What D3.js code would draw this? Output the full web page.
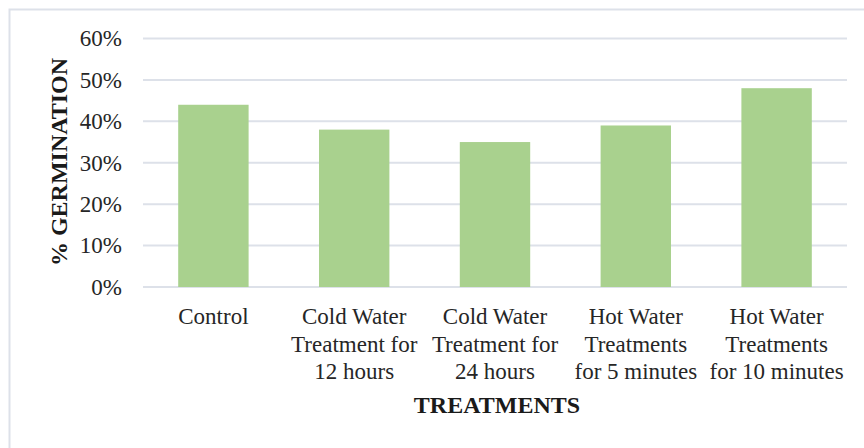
<!DOCTYPE html>
<html>
<head>
<meta charset="utf-8">
<script src="https://cdn.jsdelivr.net/npm/d3@7"></script>
<style>
  body { margin: 0; background: #fff; }
  svg { display: block; font-family: "Liberation Serif", "Times New Roman", serif; }
</style>
</head>
<body>
<svg></svg>
<script>
const categories = [
    ["Control"],
    ["Cold Water", "Treatment for", "12 hours"],
    ["Cold Water", "Treatment for", "24 hours"],
    ["Hot Water", "Treatments", "for 5 minutes"],
    ["Hot Water", "Treatments", "for 10 minutes"]
];
const germination = [0.44, 0.38, 0.35, 0.39, 0.48];
const yTicks = [0, 0.1, 0.2, 0.3, 0.4, 0.5, 0.6];

const W = 864, H = 448;
const margin = {top: 38.5, right: 17, bottom: 161, left: 143};
const width = W - margin.left - margin.right,
      height = H - margin.top - margin.bottom;

const svg = d3.select("svg")
    .attr("width", W)
    .attr("height", H);

// chart area frame (only top/left visible in the picture)
svg.append("rect")
    .attr("x", 9.5)
    .attr("y", 9.5)
    .attr("width", 900)
    .attr("height", 500)
    .attr("fill", "none")
    .attr("stroke", "#dde1e9")
    .attr("stroke-width", 2);

const g = svg.append("g")
    .attr("transform", `translate(${margin.left},${margin.top})`);

const x = d3.scaleBand()
    .domain(d3.range(categories.length))
    .range([0, width])
    .paddingInner(0.5)
    .paddingOuter(0.25);

const y = d3.scaleLinear()
    .domain([0, 0.6])
    .range([height, 0]);

// gridlines
g.append("g")
    .selectAll("line")
    .data(yTicks)
    .enter().append("line")
    .attr("x1", 0)
    .attr("x2", width)
    .attr("y1", d => y(d))
    .attr("y2", d => y(d))
    .attr("stroke", "#dde1e9")
    .attr("stroke-width", 2);

// y tick labels
const yAxis = g.append("g")
    .call(d3.axisLeft(y).tickValues(yTicks).tickFormat(d3.format(".0%")).tickSize(0).tickPadding(21));
yAxis.select(".domain").remove();
yAxis.selectAll("text")
    .style("font-family", "Liberation Serif, serif")
    .style("font-size", "23px")
    .style("fill", "#262626");

// bars
g.append("g")
    .selectAll("rect")
    .data(germination)
    .enter().append("rect")
    .attr("x", (d, i) => x(i))
    .attr("width", x.bandwidth())
    .attr("y", d => y(d))
    .attr("height", d => height - y(d))
    .attr("fill", "#a9d18e");

// category labels (multi-line)
const labels = g.append("g")
    .selectAll("text")
    .data(categories)
    .enter().append("text")
    .attr("text-anchor", "middle")
    .attr("transform", (d, i) => `translate(${x(i) + x.bandwidth() / 2},${height + 37})`)
    .style("font-size", "23px")
    .style("fill", "#262626");

labels.selectAll("tspan")
    .data(d => d)
    .enter().append("tspan")
    .attr("x", 0)
    .attr("dy", (d, i) => i === 0 ? 0 : 27.5)
    .text(d => d);

// axis titles
svg.append("text")
    .attr("text-anchor", "middle")
    .attr("x", 497)
    .attr("y", 413)
    .style("font-size", "24px")
    .style("font-weight", "bold")
    .style("fill", "#1a1a1a")
    .text("TREATMENTS");

svg.append("text")
    .attr("text-anchor", "middle")
    .attr("transform", "translate(67,162) rotate(-90)")
    .style("font-size", "24px")
    .style("font-weight", "bold")
    .style("fill", "#1a1a1a")
    .text("% GERMINATION");
</script>
</body>
</html>
